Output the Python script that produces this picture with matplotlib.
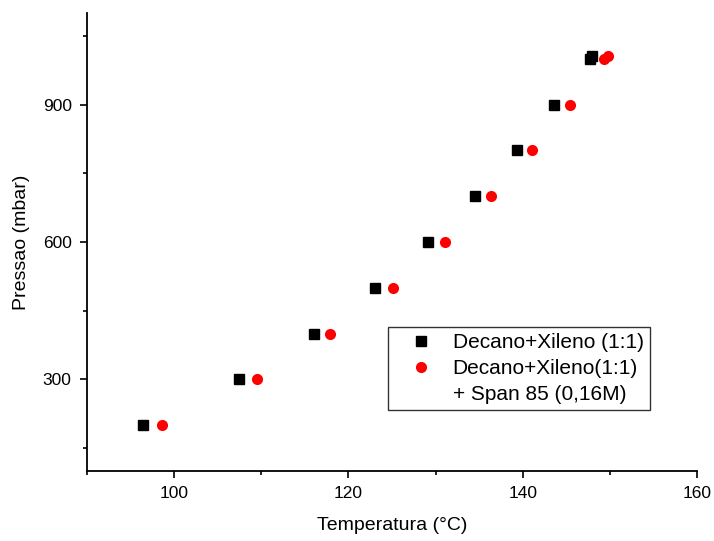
import matplotlib.pyplot as plt
from matplotlib.lines import Line2D
from matplotlib.ticker import MultipleLocator

plt.rcParams['font.family'] = ['Liberation Sans', 'DejaVu Sans']

# pressao (mbar) e temperatura de ebulicao (°C)
pressao = [200, 300, 400, 500, 600, 700, 800, 900, 1000, 1007]
temp_dx = [96.4, 107.5, 116.0, 123.1, 129.1, 134.5, 139.4, 143.6, 147.7, 148.0]
temp_span = [98.6, 109.5, 117.9, 125.1, 131.1, 136.4, 141.1, 145.4, 149.3, 149.8]

label_dx = 'Decano+Xileno (1:1)'
label_span = 'Decano+Xileno(1:1)'
label_span2 = '+ Span 85 (0,16M)'

fig = plt.figure(figsize=(7.14, 5.41), dpi=100)
ax = fig.add_axes([0.1218, 0.1294, 0.8543, 0.8466])

ax.plot(temp_dx, pressao, linestyle='none', marker='s', markersize=7.2,
        color='black', label=label_dx)
ax.plot(temp_span, pressao, linestyle='none', marker='o', markersize=8,
        color='red', markeredgewidth=0, label=label_span)
extra = Line2D([], [], linestyle='none', marker=None, label=label_span2)

ax.set_xlim(90, 160)
ax.set_ylim(100, 1100)
ax.xaxis.set_major_locator(MultipleLocator(20))
ax.xaxis.set_minor_locator(MultipleLocator(10))
ax.yaxis.set_major_locator(MultipleLocator(300))
ax.yaxis.set_minor_locator(MultipleLocator(150))

for s in ['top', 'right']:
    ax.spines[s].set_visible(False)
for s in ['left', 'bottom']:
    ax.spines[s].set_linewidth(1.3)

ax.tick_params(which='major', direction='out', length=5, width=1.2, labelsize=12.5, pad=6)
ax.tick_params(which='minor', direction='out', length=3, width=1.2)

ax.set_xlabel('Temperatura (°C)', fontsize=14, labelpad=11)
ax.set_ylabel('Pressao (mbar)', fontsize=14, labelpad=9)

handles, labels = ax.get_legend_handles_labels()
handles.append(extra)
labels.append(label_span2)
leg = ax.legend(handles, labels, loc='upper left', bbox_to_anchor=(0.4934, 0.3144),
                borderaxespad=0, fontsize=15, fancybox=False, frameon=True,
                edgecolor='black', borderpad=0.3, handlelength=2.6,
                handletextpad=0.2, labelspacing=0.32, numpoints=1)
leg.get_frame().set_linewidth(1.0)

fig.savefig('out.png', dpi=100)
